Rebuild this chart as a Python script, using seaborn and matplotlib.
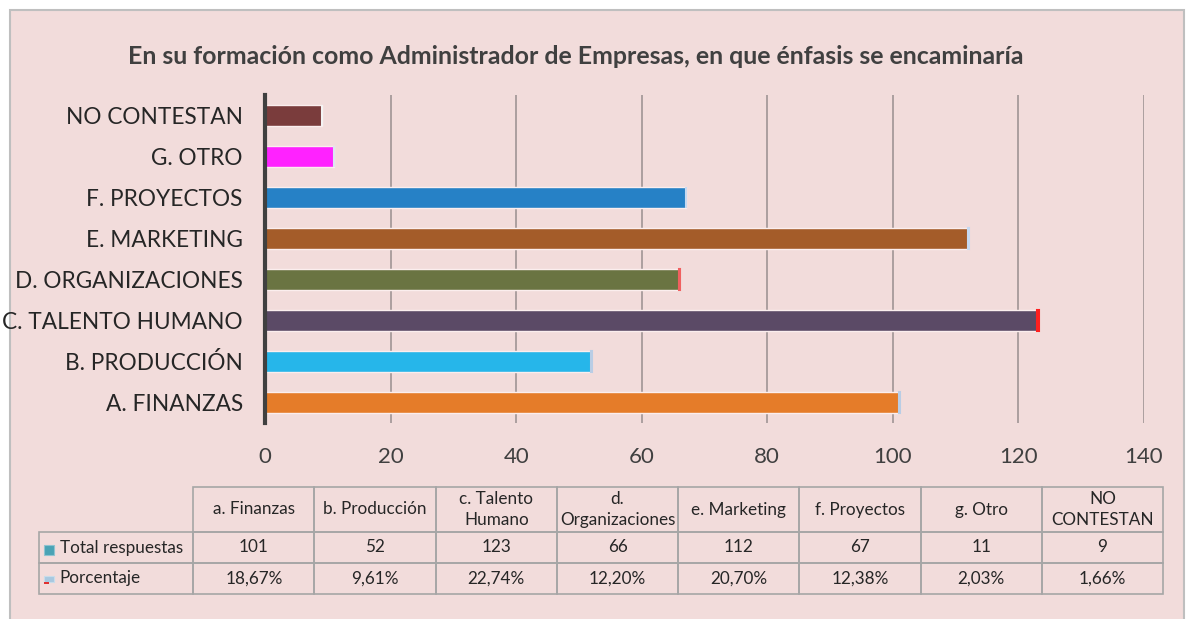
import matplotlib.pyplot as plt
import matplotlib.patches as mpatches
import seaborn as sns
import pandas as pd

# Data (top to bottom as drawn)
categories = ["NO CONTESTAN", "G. OTRO", "F. PROYECTOS", "E. MARKETING",
              "D. ORGANIZACIONES", "C. TALENTO HUMANO", "B. PRODUCCIÓN", "A. FINANZAS"]
totals = [9, 11, 67, 112, 66, 123, 52, 101]
pct = [0.0166, 0.0203, 0.1238, 0.2070, 0.1220, 0.2274, 0.0961, 0.1867]
bar_colors = ["#7a3c3c", "#ff22ff", "#2681c6", "#a45c29",
              "#6a7442", "#5b4a66", "#26b6ea", "#e57c29"]
cap_colors = ["#f4f4f4", "#dce6f2", "#c6d9f1", "#c6d9f1",
              "#f06060", "#ff2020", "#b9cde5", "#b9cde5"]

# Table (left to right)
table_cols = ["a. Finanzas", "b. Producción", "c. Talento\nHumano", "d.\nOrganizaciones",
              "e. Marketing", "f. Proyectos", "g. Otro", "NO\nCONTESTAN"]
table_totals = ["101", "52", "123", "66", "112", "67", "11", "9"]
table_pct = ["18,67%", "9,61%", "22,74%", "12,20%", "20,70%", "12,38%", "2,03%", "1,66%"]
row_labels = ["Total respuestas", "Porcentaje"]

title = "En su formación como Administrador de Empresas, en que énfasis se encaminaría"

df = pd.DataFrame({"Categoria": categories, "Total": totals})

W, H = 1194, 619
bg = "#f2dcdb"
fig = plt.figure(figsize=(W / 100, H / 100), dpi=100)
fig.patch.set_facecolor("white")
plt.rcParams["font.family"] = ["Lato", "DejaVu Sans"]

# outer chart area
fig.patches.append(mpatches.Rectangle((10 / W, -0.01), 1174 / W, 1 - 10 / H + 0.01,
                                      transform=fig.transFigure, facecolor=bg,
                                      edgecolor="#bfbfbf", linewidth=1.5, zorder=-5))

ax = fig.add_axes([265 / W, 1 - 423 / H, 879 / W, 328 / H])
ax.patch.set_alpha(0)

sns.barplot(data=df, x="Total", y="Categoria", hue="Categoria", order=categories,
            palette=bar_colors, saturation=1, width=0.5, orient="h", legend=False,
            ax=ax, edgecolor="#fbeeee", linewidth=1.0, zorder=3)
# percentage series stacked at end of bars
ax.barh(range(len(categories)), pct, left=totals, height=0.5, color=cap_colors,
        edgecolor=cap_colors, linewidth=1.5, zorder=3)

ax.set_xlim(0, 140)
ax.set_ylim(7.5, -0.5)
ax.set_xticks(range(0, 141, 20))
ax.set_xticklabels([str(v) for v in range(0, 141, 20)], fontsize=16, color="#404040")
ax.tick_params(axis="x", length=0, pad=17)
ax.tick_params(axis="y", length=0, pad=16, labelsize=16.3, labelcolor="#262626")
ax.set_xlabel("")
ax.set_ylabel("")
ax.grid(axis="x", color="#a09595", linewidth=1.2, zorder=0)
ax.grid(axis="y", visible=False)
for s in ["top", "right", "bottom"]:
    ax.spines[s].set_visible(False)
ax.spines["left"].set_color("#404040")
ax.spines["left"].set_linewidth(3)
ax.spines["left"].set_zorder(4)

fig.text(576 / W, 1 - 57 / H, title, ha="center", va="center", fontsize=17.9,
         fontweight="bold", color="#404040")

# data table
cell_text = [[""] + table_cols,
             [row_labels[0]] + table_totals,
             [row_labels[1]] + table_pct]
col_w = [154] + [121] * 8
tbl = ax.table(cellText=cell_text, colWidths=[c / sum(col_w) for c in col_w],
               cellLoc="center", bbox=[(39 - 265) / 879, (423 - 594) / 328,
                                       1124 / 879, 107 / 328])
tbl.auto_set_font_size(False)
for (r, c), cell in tbl.get_celld().items():
    cell.set_facecolor("none")
    cell.set_edgecolor("#a6a6a6")
    cell.set_linewidth(1.2)
    cell.get_text().set_fontsize(12.3)
    cell.get_text().set_color("#262626")
    cell.get_text().set_linespacing(1.35)
    cell.set_height(45 if r == 0 else 31)
    if c == 0:
        cell.get_text().set_ha("left")
        cell._loc = "left"
        cell.PAD = 0.135
    if r == 0 and c == 0:
        cell.visible_edges = ""

# legend keys in the table
fig.patches.append(mpatches.Rectangle((44 / W, 1 - 555 / H), 10 / W, 10 / H,
                                      transform=fig.transFigure, facecolor="#4aa3b5",
                                      edgecolor="#8fc3d0", linewidth=0.8, zorder=5))
fig.patches.append(mpatches.Rectangle((44 / W, 1 - 582 / H), 10 / W, 6 / H,
                                      transform=fig.transFigure, facecolor="#a8c8e0",
                                      edgecolor="#c8dcea", linewidth=0.8, zorder=5))
fig.patches.append(mpatches.Rectangle((44 / W, 1 - 584 / H), 5 / W, 2 / H,
                                      transform=fig.transFigure, facecolor="#e03030",
                                      linewidth=0, zorder=5))

fig.savefig("out.png", dpi=100, facecolor=fig.get_facecolor())
